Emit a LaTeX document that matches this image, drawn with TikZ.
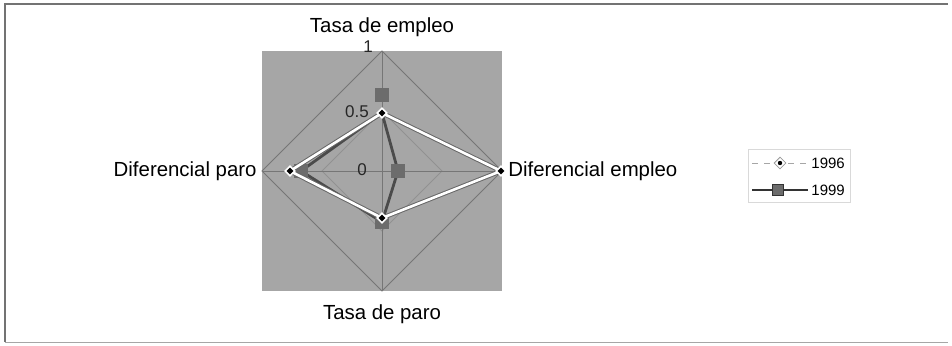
\documentclass[tikz,border=0pt]{standalone}
\usepackage{fontspec}
\setmainfont{Liberation Sans}
\usepackage{xcolor}
\usetikzlibrary{shapes,positioning,calc}
\definecolor{plotgray}{RGB}{166,166,166}
\definecolor{gridgray}{RGB}{118,118,118}
\definecolor{markgray}{RGB}{108,108,108}
\tikzset{
    axislabel/.style={font=\fontsize{10.2pt}{12pt}\selectfont, inner sep=1pt},
    ticklabel/.style={font=\fontsize{8.5pt}{10pt}\selectfont, text=black!85, inner sep=1pt},
    legendlabel/.style={font=\fontsize{7.5pt}{9pt}\selectfont, inner sep=1pt, anchor=west},
    sqmark/.style={rectangle, fill=markgray, minimum size=7pt, inner sep=0pt},
    dimark/.style={diamond, fill=black, draw=white, line width=0.8pt, minimum size=5pt, inner sep=0pt}
}
\begin{document}
\begin{tikzpicture}[x=0.5pt, y=-0.5pt]
    \useasboundingbox (0,0) rectangle (952,345);
    % Frame
    \draw[black!55, line width=0.6pt] (948,4) -- (5,4) -- (5,342);
    \draw[black!35, line width=0.5pt] (5,342) -- (948,342);

    % Plot area
    \fill[plotgray] (262,51) rectangle (502,291);
    \coordinate (c) at (382,171);
    \coordinate (top) at (382,51);
    \coordinate (right) at (502,171);
    \coordinate (bottom) at (382,291);
    \coordinate (left) at (262,171);

    % Grid
    \draw[gridgray, line width=0.5pt] (top) -- (right) -- (bottom) -- (left) -- cycle;
    \draw[gridgray!80, line width=0.4pt] ($(c)!0.5!(top)$) -- ($(c)!0.5!(right)$) -- ($(c)!0.5!(bottom)$) -- ($(c)!0.5!(left)$) -- cycle;
    \draw[gridgray, line width=0.5pt] (top) -- (bottom);
    \draw[gridgray, line width=0.5pt] (left) -- (right);

    % Tick labels
    \node[ticklabel] (t1) at (368,47) {1};
    \node[ticklabel] (t05) at (357,112) {0.5};
    \node[ticklabel] (t0) at (362,170) {0};

    % Data points
    \coordinate (a1) at (382,113);
    \coordinate (a2) at (501,171);
    \coordinate (a3) at (382,218);
    \coordinate (a4) at (290,171);
    \coordinate (b1) at (382,95);
    \coordinate (b2) at (398,171);
    \coordinate (b3) at (382,222);
    \coordinate (b4) at (301,171);

    % 1999
    \draw[markgray!70!black, line width=1.4pt, line join=round] (a1) -- (b2) -- (b3) -- (b4) -- cycle;
    \foreach \p in {b1,b2,b3,b4}
        \node[sqmark] at (\p) {};

    % 1996
    \draw[black!60, line width=2.3pt, line join=round] (a1) -- (a2) -- (a3) -- (a4) -- cycle;
    \draw[white, line width=1.3pt, line join=round] (a1) -- (a2) -- (a3) -- (a4) -- cycle;
    \foreach \p in {a1,a2,a3,a4}
        \node[dimark] at (\p) {};

    % Axis labels
    \node[axislabel] (empleo) at (382,27) {Tasa de empleo};
    \node[axislabel] (paro) at (382,314) {Tasa de paro};
    \node[axislabel, anchor=east] (difparo) at (259,171) {Diferencial paro};
    \node[axislabel, anchor=west] (difempleo) at (506,171) {Diferencial empleo};

    % Legend
    \draw[black!15, line width=0.4pt] (748,149) rectangle (850,202);
    \draw[black!35, dashed, line width=0.4pt] (752,163) -- (808,163);
    \node[diamond, draw=black!40, fill=white, minimum size=6pt, inner sep=0pt] (m96) at (780,163) {};
    \fill[black] (m96.center) circle (1.1pt);
    \node[legendlabel] (l96) at (809,163) {1996};
    \draw[black!80, line width=0.8pt] (752,190) -- (808,190);
    \node[sqmark, draw=black!80, line width=0.4pt, minimum size=5.5pt] (m99) at (778,190) {};
    \node[legendlabel] (l99) at (809,190) {1999};
\end{tikzpicture}
\end{document}
